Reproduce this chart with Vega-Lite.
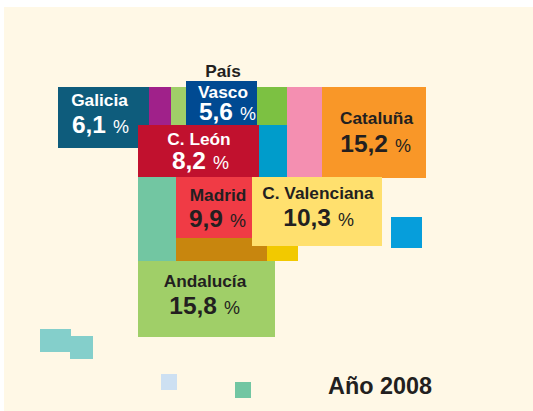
{"$schema":"https://vega.github.io/schema/vega-lite/v6.json","width":533,"height":411,"padding":0,"autosize":{"type":"fit","contains":"padding"},"background":"#ffffff","view":{"stroke":null},
"datasets":{
"zonas":[
{"region":"Fondo","x0":4,"x1":533,"y0":7,"y1":411},
{"region":"Galicia","x0":58,"x1":149,"y0":87,"y1":148},
{"region":"Asturias","x0":149,"x1":171,"y0":87,"y1":125},
{"region":"Cantabria","x0":171,"x1":186,"y0":87,"y1":125},
{"region":"La Rioja","x0":256,"x1":287,"y0":87,"y1":125},
{"region":"País Vasco","x0":186,"x1":257,"y0":81,"y1":125},
{"region":"Navarra","x0":259,"x1":287,"y0":125,"y1":177},
{"region":"Aragón","x0":287,"x1":322,"y0":87,"y1":177},
{"region":"Cataluña","x0":322,"x1":426,"y0":87,"y1":178},
{"region":"C. León","x0":138,"x1":259,"y0":125,"y1":177},
{"region":"Extremadura","x0":138,"x1":176,"y0":177,"y1":261},
{"region":"Madrid","x0":176,"x1":252,"y0":177,"y1":238},
{"region":"Castilla-La Mancha","x0":176,"x1":267,"y0":238,"y1":261},
{"region":"Murcia","x0":267,"x1":298,"y0":246,"y1":261},
{"region":"C. Valenciana","x0":252,"x1":382,"y0":177,"y1":246},
{"region":"Andalucía","x0":138,"x1":275,"y0":261,"y1":337},
{"region":"Baleares","x0":391,"x1":422,"y0":217,"y1":248},
{"region":"Canarias","x0":40,"x1":71,"y0":329,"y1":352},
{"region":"Canarias","x0":70,"x1":93,"y0":336,"y1":359},
{"region":"Ceuta","x0":161,"x1":177,"y0":374,"y1":390},
{"region":"Melilla","x0":235,"x1":251,"y0":382,"y1":398}
],
"nombres":[
{"nombre":"Galicia","x":99.5,"y":106,"tono":"claro"},
{"nombre":"País","x":223,"y":77,"tono":"oscuro"},
{"nombre":"Vasco","x":223,"y":98,"tono":"claro"},
{"nombre":"C. León","x":199,"y":145,"tono":"claro"},
{"nombre":"Cataluña","x":376.5,"y":124,"tono":"oscuro"},
{"nombre":"Madrid","x":218,"y":201,"tono":"oscuro"},
{"nombre":"C. Valenciana","x":318,"y":199,"tono":"oscuro"},
{"nombre":"Andalucía","x":205,"y":287,"tono":"oscuro"}
],
"valores":[
{"valor":"6,1","x":106,"y":133,"tono":"claro"},
{"valor":"5,6","x":233,"y":120,"tono":"claro"},
{"valor":"8,2","x":206,"y":169,"tono":"claro"},
{"valor":"15,2","x":388,"y":152,"tono":"oscuro"},
{"valor":"9,9","x":223,"y":227,"tono":"oscuro"},
{"valor":"10,3","x":331,"y":226,"tono":"oscuro"},
{"valor":"15,8","x":217,"y":314,"tono":"oscuro"}
],
"titulo":[{"texto":"Año 2008","x":380,"y":394}]
},
"layer":[
{"data":{"name":"zonas"},"mark":{"type":"rect"},
"encoding":{
"x":{"field":"x0","type":"quantitative","scale":{"domain":[0,533],"nice":false,"zero":false},"axis":null},
"x2":{"field":"x1"},
"y":{"field":"y0","type":"quantitative","scale":{"domain":[0,411],"reverse":true,"nice":false,"zero":false},"axis":null},
"y2":{"field":"y1"},
"color":{"field":"region","type":"nominal","legend":null,"scale":{
"domain":["Fondo","Galicia","Asturias","Cantabria","La Rioja","País Vasco","Navarra","Aragón","Cataluña","C. León","Extremadura","Madrid","Castilla-La Mancha","Murcia","C. Valenciana","Andalucía","Baleares","Canarias","Ceuta","Melilla"],
"range":["#fff8e6","#0e5c7c","#a0218a","#a0cf68","#7cc142","#004a92","#009ccb","#f48fb1","#f99728","#c1112e","#72c6a2","#f03b45","#c8860e","#f2c900","#ffe06e","#a0cf68","#069edb","#84cfcb","#cde0f2","#72c6a2"]}}
}},
{"data":{"name":"nombres"},"mark":{"type":"text","font":"Liberation Sans","fontWeight":"bold","fontSize":17.3,"baseline":"alphabetic","align":"center"},
"encoding":{"x":{"field":"x","type":"quantitative","axis":null},"y":{"field":"y","type":"quantitative","axis":null},"text":{"field":"nombre"},
"color":{"field":"tono","type":"nominal","legend":null,"scale":{"domain":["claro","oscuro"],"range":["#ffffff","#231f20"]}}}},
{"data":{"name":"valores"},"mark":{"type":"text","font":"Liberation Sans","fontWeight":"bold","fontSize":24.5,"baseline":"alphabetic","align":"right"},
"encoding":{"x":{"field":"x","type":"quantitative","axis":null},"y":{"field":"y","type":"quantitative","axis":null},"text":{"field":"valor"},
"color":{"field":"tono","type":"nominal","legend":null,"scale":{"domain":["claro","oscuro"],"range":["#ffffff","#231f20"]}}}},
{"data":{"name":"valores"},"mark":{"type":"text","font":"Liberation Sans","fontSize":18,"baseline":"alphabetic","align":"left","dx":7},
"encoding":{"x":{"field":"x","type":"quantitative","axis":null},"y":{"field":"y","type":"quantitative","axis":null},"text":{"value":"%"},
"color":{"field":"tono","type":"nominal","legend":null,"scale":{"domain":["claro","oscuro"],"range":["#ffffff","#231f20"]}}}},
{"data":{"name":"titulo"},"mark":{"type":"text","font":"Liberation Sans","fontWeight":"bold","fontSize":23.4,"baseline":"alphabetic","align":"center","color":"#231f20"},
"encoding":{"x":{"field":"x","type":"quantitative","axis":null},"y":{"field":"y","type":"quantitative","axis":null},"text":{"field":"texto"}}}
],
"resolve":{"scale":{"color":"independent"}}
}
